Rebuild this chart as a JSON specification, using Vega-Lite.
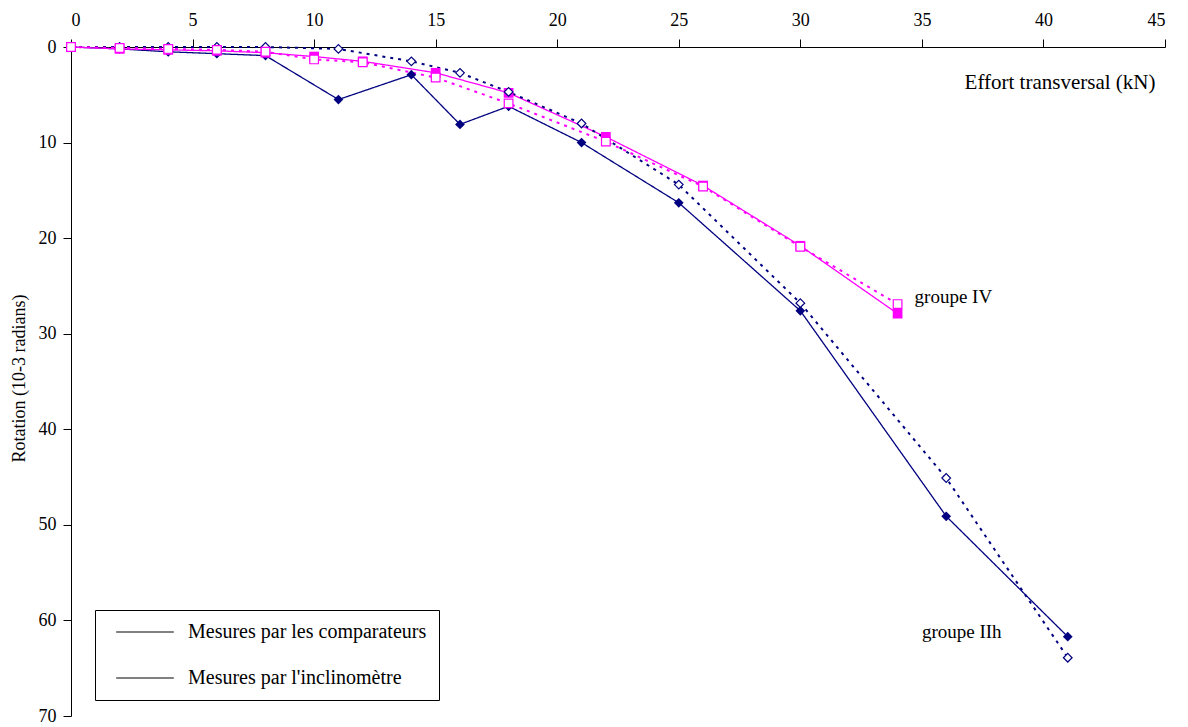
{
  "$schema": "https://vega.github.io/schema/vega-lite/v6.json",
  "width": 1094,
  "height": 669,
  "autosize": "none",
  "padding": {"left": 71, "top": 47, "right": 23, "bottom": 11},
  "background": "white",
  "config": {
    "font": "Liberation Serif",
    "view": {"stroke": null},
    "legend": {"symbolBaseStrokeColor": "black", "symbolBaseFillColor": "transparent"},
    "axis": {
      "grid": false,
      "domainColor": "black",
      "tickColor": "black",
      "labelColor": "black",
      "titleColor": "black",
      "labelFont": "Liberation Serif",
      "titleFont": "Liberation Serif",
      "labelFontSize": 18,
      "titleFontSize": 18,
      "titleFontWeight": "normal",
      "tickSize": 8
    }
  },
  "data": {
    "values": [
      {"effort": 0, "rotation": 0, "groupe": "IIh", "mesure": "Mesures par les comparateurs"},
      {"effort": 2, "rotation": 0.2, "groupe": "IIh", "mesure": "Mesures par les comparateurs"},
      {"effort": 4, "rotation": 0.5, "groupe": "IIh", "mesure": "Mesures par les comparateurs"},
      {"effort": 6, "rotation": 0.7, "groupe": "IIh", "mesure": "Mesures par les comparateurs"},
      {"effort": 8, "rotation": 0.9, "groupe": "IIh", "mesure": "Mesures par les comparateurs"},
      {"effort": 11, "rotation": 5.5, "groupe": "IIh", "mesure": "Mesures par les comparateurs"},
      {"effort": 14, "rotation": 2.9, "groupe": "IIh", "mesure": "Mesures par les comparateurs"},
      {"effort": 16, "rotation": 8.1, "groupe": "IIh", "mesure": "Mesures par les comparateurs"},
      {"effort": 18, "rotation": 6.2, "groupe": "IIh", "mesure": "Mesures par les comparateurs"},
      {"effort": 21, "rotation": 10.0, "groupe": "IIh", "mesure": "Mesures par les comparateurs"},
      {"effort": 25, "rotation": 16.3, "groupe": "IIh", "mesure": "Mesures par les comparateurs"},
      {"effort": 30, "rotation": 27.6, "groupe": "IIh", "mesure": "Mesures par les comparateurs"},
      {"effort": 36, "rotation": 49.1, "groupe": "IIh", "mesure": "Mesures par les comparateurs"},
      {"effort": 41, "rotation": 61.7, "groupe": "IIh", "mesure": "Mesures par les comparateurs"},
      {"effort": 0, "rotation": 0, "groupe": "IIh", "mesure": "Mesures par l'inclinomètre"},
      {"effort": 2, "rotation": 0, "groupe": "IIh", "mesure": "Mesures par l'inclinomètre"},
      {"effort": 4, "rotation": 0, "groupe": "IIh", "mesure": "Mesures par l'inclinomètre"},
      {"effort": 6, "rotation": 0, "groupe": "IIh", "mesure": "Mesures par l'inclinomètre"},
      {"effort": 8, "rotation": 0, "groupe": "IIh", "mesure": "Mesures par l'inclinomètre"},
      {"effort": 11, "rotation": 0.2, "groupe": "IIh", "mesure": "Mesures par l'inclinomètre"},
      {"effort": 14, "rotation": 1.5, "groupe": "IIh", "mesure": "Mesures par l'inclinomètre"},
      {"effort": 16, "rotation": 2.7, "groupe": "IIh", "mesure": "Mesures par l'inclinomètre"},
      {"effort": 18, "rotation": 4.7, "groupe": "IIh", "mesure": "Mesures par l'inclinomètre"},
      {"effort": 21, "rotation": 8.0, "groupe": "IIh", "mesure": "Mesures par l'inclinomètre"},
      {"effort": 25, "rotation": 14.4, "groupe": "IIh", "mesure": "Mesures par l'inclinomètre"},
      {"effort": 30, "rotation": 26.8, "groupe": "IIh", "mesure": "Mesures par l'inclinomètre"},
      {"effort": 36, "rotation": 45.1, "groupe": "IIh", "mesure": "Mesures par l'inclinomètre"},
      {"effort": 41, "rotation": 63.9, "groupe": "IIh", "mesure": "Mesures par l'inclinomètre"},
      {"effort": 0, "rotation": 0, "groupe": "IV", "mesure": "Mesures par les comparateurs"},
      {"effort": 2, "rotation": 0.2, "groupe": "IV", "mesure": "Mesures par les comparateurs"},
      {"effort": 4, "rotation": 0.3, "groupe": "IV", "mesure": "Mesures par les comparateurs"},
      {"effort": 6, "rotation": 0.4, "groupe": "IV", "mesure": "Mesures par les comparateurs"},
      {"effort": 8, "rotation": 0.6, "groupe": "IV", "mesure": "Mesures par les comparateurs"},
      {"effort": 10, "rotation": 1.0, "groupe": "IV", "mesure": "Mesures par les comparateurs"},
      {"effort": 12, "rotation": 1.5, "groupe": "IV", "mesure": "Mesures par les comparateurs"},
      {"effort": 15, "rotation": 2.7, "groupe": "IV", "mesure": "Mesures par les comparateurs"},
      {"effort": 18, "rotation": 4.8, "groupe": "IV", "mesure": "Mesures par les comparateurs"},
      {"effort": 22, "rotation": 9.4, "groupe": "IV", "mesure": "Mesures par les comparateurs"},
      {"effort": 26, "rotation": 14.5, "groupe": "IV", "mesure": "Mesures par les comparateurs"},
      {"effort": 30, "rotation": 20.8, "groupe": "IV", "mesure": "Mesures par les comparateurs"},
      {"effort": 34, "rotation": 27.9, "groupe": "IV", "mesure": "Mesures par les comparateurs"},
      {"effort": 0, "rotation": 0, "groupe": "IV", "mesure": "Mesures par l'inclinomètre"},
      {"effort": 2, "rotation": 0.1, "groupe": "IV", "mesure": "Mesures par l'inclinomètre"},
      {"effort": 4, "rotation": 0.2, "groupe": "IV", "mesure": "Mesures par l'inclinomètre"},
      {"effort": 6, "rotation": 0.3, "groupe": "IV", "mesure": "Mesures par l'inclinomètre"},
      {"effort": 8, "rotation": 0.5, "groupe": "IV", "mesure": "Mesures par l'inclinomètre"},
      {"effort": 10, "rotation": 1.3, "groupe": "IV", "mesure": "Mesures par l'inclinomètre"},
      {"effort": 12, "rotation": 1.6, "groupe": "IV", "mesure": "Mesures par l'inclinomètre"},
      {"effort": 15, "rotation": 3.2, "groupe": "IV", "mesure": "Mesures par l'inclinomètre"},
      {"effort": 18, "rotation": 5.9, "groupe": "IV", "mesure": "Mesures par l'inclinomètre"},
      {"effort": 22, "rotation": 9.9, "groupe": "IV", "mesure": "Mesures par l'inclinomètre"},
      {"effort": 26, "rotation": 14.6, "groupe": "IV", "mesure": "Mesures par l'inclinomètre"},
      {"effort": 30, "rotation": 20.9, "groupe": "IV", "mesure": "Mesures par l'inclinomètre"},
      {"effort": 34, "rotation": 26.9, "groupe": "IV", "mesure": "Mesures par l'inclinomètre"}
    ]
  },
  "encoding": {
    "x": {
      "field": "effort",
      "type": "quantitative",
      "scale": {"domain": [0, 45], "nice": false, "zero": false},
      "axis": {
        "orient": "top",
        "values": [0, 5, 10, 15, 20, 25, 30, 35, 40, 45],
        "labelPadding": 10,
        "title": "Effort transversal (kN)",
        "titleFontSize": 21,
        "titleX": 1084,
        "titleY": 35,
        "titleAlign": "right",
        "titleBaseline": "middle",
        "titleAnchor": null
      }
    },
    "y": {
      "field": "rotation",
      "type": "quantitative",
      "scale": {"domain": [0, 70], "reverse": true, "nice": false},
      "axis": {
        "orient": "left",
        "values": [0, 10, 20, 30, 40, 50, 60, 70],
        "labelPadding": 7,
        "title": "Rotation (10-3 radians)",
        "titleX": -52,
        "titleY": 331,
        "titleAngle": -90,
        "titleAlign": "center",
        "titleBaseline": "middle",
        "titleAnchor": null
      }
    },
    "color": {
      "field": "groupe",
      "type": "nominal",
      "scale": {"domain": ["IIh", "IV"], "range": ["#000080", "#FF00FF"]},
      "legend": null
    }
  },
  "layer": [
    {
      "transform": [{"filter": "datum.mesure == 'Mesures par les comparateurs'"}],
      "mark": {"type": "line", "strokeWidth": 1.3},
      "encoding": {
        "strokeDash": {
          "field": "mesure",
          "type": "nominal",
          "scale": {
            "domain": ["Mesures par les comparateurs", "Mesures par l'inclinomètre"],
            "range": [[1, 0], [1, 0]]
          },
          "legend": {
            "orient": "none",
            "legendX": 24,
            "legendY": 563,
            "title": null,
            "strokeColor": "black",
            "fillColor": "white",
            "padding": 12,
            "symbolType": "M-3.2,0H3.2",
            "symbolSize": 324,
            "symbolOffset": 28,
            "symbolStrokeWidth": 1.2,
            "symbolStrokeColor": "black",
            "labelFontSize": 20,
            "labelFont": "Liberation Serif",
            "labelColor": "black",
            "labelOffset": 33,
            "rowPadding": 26,
            "labelLimit": 0
          }
        }
      }
    },
    {
      "transform": [{"filter": "datum.mesure != 'Mesures par les comparateurs'"}],
      "mark": {"type": "line", "strokeWidth": 2, "strokeDash": [3, 5]},
      "encoding": {}
    },
    {
      "transform": [{"filter": "datum.mesure == 'Mesures par les comparateurs'"}],
      "mark": {"type": "point", "filled": true, "size": 95, "opacity": 1},
      "encoding": {
        "shape": {
          "field": "groupe",
          "type": "nominal",
          "scale": {"domain": ["IIh", "IV"], "range": ["diamond", "square"]},
          "legend": null
        }
      }
    },
    {
      "transform": [{"filter": "datum.mesure != 'Mesures par les comparateurs'"}],
      "mark": {"type": "point", "filled": false, "fill": "white", "size": 75, "strokeWidth": 1.2, "opacity": 1},
      "encoding": {
        "shape": {
          "field": "groupe",
          "type": "nominal",
          "scale": {"domain": ["IIh", "IV"], "range": ["diamond", "square"]},
          "legend": null
        }
      }
    },
    {
      "data": {
        "values": [
          {"effort": 34.7, "rotation": 26.2, "label": "groupe IV"},
          {"effort": 35.0, "rotation": 61.2, "label": "groupe IIh"}
        ]
      },
      "mark": {"type": "text", "align": "left", "baseline": "middle", "fontSize": 19, "font": "Liberation Serif"},
      "encoding": {
        "text": {"field": "label", "type": "nominal"},
        "color": {"value": "black"}
      }
    }
  ]
}
